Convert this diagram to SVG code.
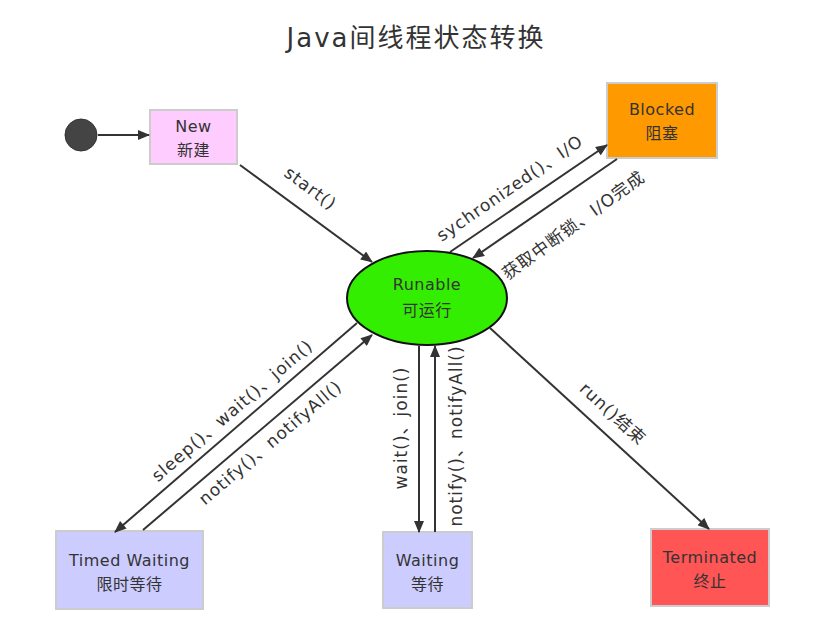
<svg xmlns="http://www.w3.org/2000/svg" width="833" height="624" viewBox="0 0 833 624">
<style>
text{font-family:"DejaVu Sans","Noto Sans CJK SC",sans-serif;fill:#333;}
.t{font-size:16px;text-anchor:middle;letter-spacing:0.5px;}
.lbl{font-size:17px;text-anchor:middle;letter-spacing:1px;}
.box{stroke:#cccccc;stroke-width:2;}
.e{stroke:#333;stroke-width:2;fill:none;marker-end:url(#ah);}
</style>
<defs>
<marker id="ah" viewBox="0 0 12 10" refX="11" refY="5" markerWidth="13" markerHeight="10" markerUnits="userSpaceOnUse" orient="auto">
<path d="M0,0 L12,5 L0,10 Z" fill="#333"/>
</marker>
</defs>
<rect width="833" height="624" fill="#fff"/>
<text x="416" y="47" style="font-size:26px;text-anchor:middle;letter-spacing:2px">Java间线程状态转换</text>
<g id="start"><circle cx="81" cy="135" r="16" fill="#444" stroke="#333" stroke-width="1"/></g>
<g id="new"><rect class="box" x="150" y="110" width="87" height="54" fill="#ffccff"/>
<text class="t" x="193.5" y="132">New</text><text class="t" x="193.5" y="156">新建</text></g>
<g id="blocked"><rect class="box" x="607" y="83" width="110" height="75" fill="#ff9900"/>
<text class="t" x="662" y="115">Blocked</text><text class="t" x="662" y="139">阻塞</text></g>
<g id="runable"><ellipse cx="427" cy="298" rx="80" ry="47" fill="#33ee00" stroke="#111" stroke-width="2"/>
<text class="t" x="427" y="290">Runable</text><text class="t" x="427" y="316">可运行</text></g>
<g id="timed"><rect class="box" x="56" y="531" width="147" height="78" fill="#ccccff"/>
<text class="t" x="129.5" y="566">Timed Waiting</text><text class="t" x="129.5" y="590">限时等待</text></g>
<g id="waiting"><rect class="box" x="383" y="532" width="89" height="76" fill="#ccccff"/>
<text class="t" x="427.5" y="566">Waiting</text><text class="t" x="427.5" y="590">等待</text></g>
<g id="terminated"><rect class="box" x="651" y="529" width="118" height="77" fill="#ff5555"/>
<text class="t" x="710" y="563">Terminated</text><text class="t" x="710" y="587">终止</text></g>
<g id="edges">
<line class="e" x1="98" y1="135" x2="149" y2="135"/>
<line class="e" x1="240" y1="165" x2="372" y2="262"/>
<line class="e" x1="450" y1="252" x2="607" y2="145"/>
<line class="e" x1="617" y1="159" x2="473" y2="258"/>
<line class="e" x1="357" y1="323" x2="115" y2="532"/>
<line class="e" x1="143" y1="530" x2="372" y2="335"/>
<line class="e" x1="419" y1="346" x2="419" y2="532"/>
<line class="e" x1="435" y1="532" x2="435" y2="346"/>
<line class="e" x1="490" y1="328" x2="709" y2="529"/>
<text class="lbl" transform="translate(307,193) rotate(36.3)">start()</text>
<text class="lbl" transform="translate(513,193) rotate(-34.5)">sychronized()、I/O</text>
<text class="lbl" transform="translate(577,230) rotate(-36)">获取中断锁、I/O完成</text>
<text class="lbl" transform="translate(236,415) rotate(-40.8)">sleep()、wait()、join()</text>
<text class="lbl" transform="translate(274,447) rotate(-40.4)">notify()、notifyAll()</text>
<text class="lbl" transform="translate(407,428) rotate(-90)">wait()、join()</text>
<text class="lbl" transform="translate(462,436) rotate(-90)">notify()、notifyAll()</text>
<text class="lbl" transform="translate(609,418) rotate(42.5)">run()结束</text>
</g>
</svg>
